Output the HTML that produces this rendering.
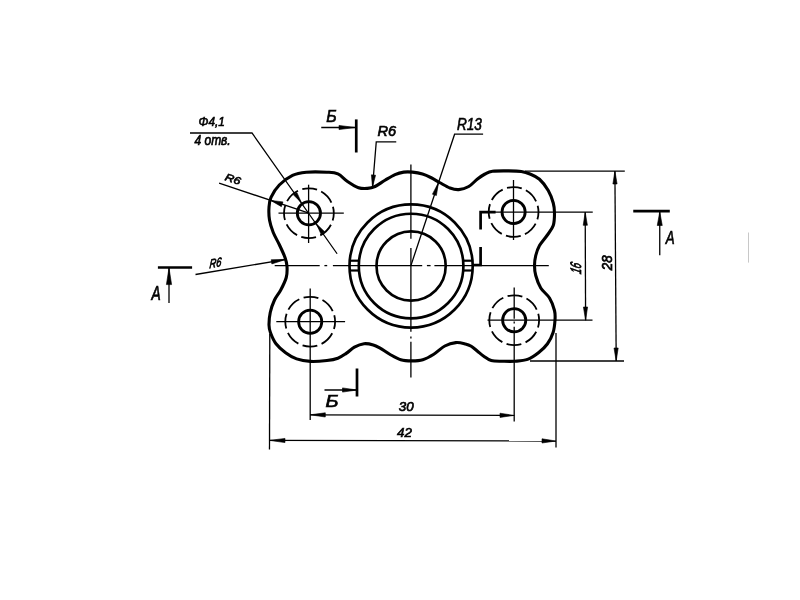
<!DOCTYPE html>
<html><head><meta charset="utf-8"><style>
html,body{margin:0;padding:0;background:#fff;}
body{width:800px;height:600px;overflow:hidden;}
svg{display:block;}
.o{fill:none;stroke:#000;stroke-width:3.1;stroke-linejoin:round}
.h{fill:none;stroke:#000;stroke-width:2.8}
.r{fill:none;stroke:#000;stroke-width:2.65}
.d{fill:none;stroke:#000;stroke-width:1.8}
.t{fill:none;stroke:#000;stroke-width:1.3}
.n{fill:none;stroke:#000;stroke-width:2.2}
.s{fill:none;stroke:#000;stroke-width:2.7;stroke-linecap:butt}
.f{fill:#000;stroke:#000;stroke-width:0.6;stroke-linejoin:round}
g.tx{opacity:0.999}
text{font-family:"Liberation Sans",sans-serif;font-style:italic;fill:#000;stroke:#000;stroke-width:0.65}
</style></head><body>
<svg width="800" height="600" viewBox="0 0 800 600">
<rect width="800" height="600" fill="#fff"/>
<path d="M271.00,197.30 C272.72,193.55 275.72,188.67 279.30,185.00 C282.88,181.33 288.00,177.43 292.50,175.30 C297.00,173.17 300.57,172.72 306.30,172.20 C312.03,171.68 321.63,171.92 326.90,172.20 C332.17,172.48 334.47,172.35 337.90,173.90 C341.33,175.45 344.07,179.20 347.50,181.50 C350.93,183.80 355.17,186.55 358.50,187.70 C361.83,188.85 364.75,188.60 367.50,188.40 C370.25,188.20 372.08,187.86 375.00,186.50 C377.92,185.14 381.67,182.23 385.00,180.25 C388.33,178.27 391.88,175.96 395.00,174.60 C398.12,173.24 400.83,172.52 403.75,172.10 C406.67,171.68 409.38,171.78 412.50,172.10 C415.62,172.42 419.38,173.06 422.50,174.00 C425.62,174.94 428.33,176.29 431.25,177.75 C434.17,179.21 436.88,181.04 440.00,182.75 C443.12,184.46 446.88,186.86 450.00,188.00 C453.12,189.14 455.62,189.85 458.75,189.60 C461.88,189.35 465.62,188.27 468.75,186.50 C471.88,184.73 474.79,181.08 477.50,179.00 C480.21,176.92 482.50,175.29 485.00,174.00 C487.50,172.71 488.54,171.77 492.50,171.25 C496.46,170.73 503.96,170.86 508.75,170.90 C513.54,170.94 517.71,170.98 521.25,171.50 C524.79,172.02 526.96,172.71 530.00,174.00 C533.04,175.29 536.46,176.50 539.50,179.25 C542.54,182.00 545.96,186.54 548.25,190.50 C550.54,194.46 552.21,199.25 553.25,203.00 C554.29,206.75 554.50,209.25 554.50,213.00 C554.50,216.75 554.50,221.75 553.25,225.50 C552.00,229.25 549.29,232.17 547.00,235.50 C544.71,238.83 541.38,242.17 539.50,245.50 C537.62,248.83 536.58,252.17 535.75,255.50 C534.92,258.83 534.50,262.17 534.50,265.50 C534.50,268.83 534.71,271.75 535.75,275.50 C536.79,279.25 538.46,284.25 540.75,288.00 C543.04,291.75 547.21,294.25 549.50,298.00 C551.79,301.75 553.58,306.83 554.50,310.50 C555.42,314.17 555.23,316.33 555.00,320.00 C554.77,323.67 554.35,328.54 553.10,332.50 C551.85,336.46 549.89,340.42 547.50,343.75 C545.11,347.08 542.08,349.89 538.75,352.50 C535.42,355.11 531.46,357.94 527.50,359.40 C523.54,360.86 519.17,360.94 515.00,361.25 C510.83,361.56 506.46,361.36 502.50,361.25 C498.54,361.14 494.38,361.43 491.25,360.60 C488.12,359.77 486.04,357.81 483.75,356.25 C481.46,354.69 479.58,352.92 477.50,351.25 C475.42,349.58 473.27,347.48 471.25,346.25 C469.23,345.02 467.97,344.51 465.40,343.90 C462.82,343.29 459.23,342.25 455.80,342.60 C452.37,342.95 448.47,344.06 444.80,346.00 C441.13,347.94 437.47,351.96 433.80,354.25 C430.13,356.54 426.47,358.64 422.80,359.75 C419.13,360.86 415.47,360.90 411.80,360.90 C408.13,360.90 404.48,360.86 400.80,359.75 C397.12,358.64 393.20,356.19 389.75,354.25 C386.30,352.31 382.85,349.66 380.10,348.10 C377.35,346.54 375.93,345.62 373.25,344.90 C370.57,344.17 367.14,343.37 364.00,343.75 C360.86,344.13 357.37,345.59 354.40,347.20 C351.43,348.81 348.95,351.57 346.20,353.40 C343.45,355.23 341.12,357.02 337.90,358.20 C334.68,359.38 331.48,359.97 326.90,360.50 C322.32,361.03 315.45,361.67 310.40,361.40 C305.35,361.13 300.73,360.35 296.60,358.90 C292.47,357.45 289.03,355.22 285.60,352.70 C282.17,350.18 278.52,347.07 276.00,343.75 C273.48,340.43 271.67,335.88 270.50,332.75 C269.33,329.62 269.04,328.38 269.00,325.00 C268.96,321.62 269.33,316.67 270.25,312.50 C271.17,308.33 272.75,303.75 274.50,300.00 C276.25,296.25 278.79,293.75 280.75,290.00 C282.71,286.25 285.21,281.46 286.25,277.50 C287.29,273.54 287.21,269.58 287.00,266.25 C286.79,262.92 286.25,261.04 285.00,257.50 C283.75,253.96 281.46,249.17 279.50,245.00 C277.54,240.83 274.92,236.67 273.25,232.50 C271.58,228.33 270.21,224.17 269.50,220.00 C268.79,215.83 268.75,211.28 269.00,207.50 C269.25,203.72 269.28,201.05 271.00,197.30 Z" class="o"/>
<circle cx="308.90" cy="213.20" r="11.6" class="h"/>
<circle cx="308.90" cy="213.20" r="24.90" class="d" stroke-dasharray="15.06 4.50" stroke-dashoffset="7.53"/>
<circle cx="513.60" cy="212.00" r="11.6" class="h"/>
<circle cx="513.60" cy="212.00" r="24.90" class="d" stroke-dasharray="15.06 4.50" stroke-dashoffset="7.53"/>
<circle cx="310.20" cy="321.70" r="11.6" class="h"/>
<circle cx="310.20" cy="321.70" r="24.90" class="d" stroke-dasharray="15.06 4.50" stroke-dashoffset="7.53"/>
<circle cx="514.20" cy="320.20" r="11.6" class="h"/>
<circle cx="514.20" cy="320.20" r="24.90" class="d" stroke-dasharray="15.06 4.50" stroke-dashoffset="7.53"/>
<line x1="278.50" y1="213.20" x2="343.80" y2="213.20" class="t"/>
<line x1="308.60" y1="184.70" x2="308.60" y2="243.00" class="t"/>
<line x1="513.50" y1="180.00" x2="513.50" y2="240.00" class="t"/>
<line x1="276.30" y1="321.70" x2="345.10" y2="321.70" class="t"/>
<line x1="310.20" y1="288.50" x2="310.20" y2="420.00" class="t"/>
<line x1="514.20" y1="287.50" x2="514.20" y2="318.80" class="t"/>
<line x1="514.20" y1="321.60" x2="514.20" y2="323.60" class="t"/>
<line x1="514.20" y1="326.80" x2="514.20" y2="421.50" class="t"/>
<line x1="525.00" y1="171.10" x2="624.80" y2="171.10" class="t"/>
<line x1="480.60" y1="212.20" x2="592.75" y2="212.20" class="t"/>
<line x1="487.50" y1="320.20" x2="592.50" y2="320.20" class="t"/>
<line x1="530.00" y1="361.00" x2="624.00" y2="361.00" class="t"/>
<line x1="269.80" y1="334.00" x2="269.50" y2="449.50" class="t"/>
<line x1="556.00" y1="333.00" x2="556.00" y2="447.50" class="t"/>
<line x1="310.20" y1="414.80" x2="514.20" y2="415.40" class="t"/>
<path d="M310.20,414.80 L325.29,417.00 L325.31,412.80 Z" class="f"/>
<path d="M514.20,415.40 L500.01,413.20 L499.99,417.40 Z" class="f"/>
<line x1="269.80" y1="440.40" x2="556.00" y2="441.00" class="t"/>
<path d="M269.80,440.40 L284.99,442.60 L285.01,438.40 Z" class="f"/>
<path d="M556.00,441.00 L542.01,438.80 L541.99,443.00 Z" class="f"/>
<line x1="585.20" y1="212.20" x2="585.60" y2="320.20" class="t"/>
<path d="M585.20,212.20 L583.20,225.32 L587.40,225.28 Z" class="f"/>
<path d="M585.60,320.20 L587.60,306.98 L583.40,307.02 Z" class="f"/>
<line x1="614.90" y1="171.10" x2="616.20" y2="361.00" class="t"/>
<path d="M614.90,171.10 L612.90,184.02 L617.10,183.98 Z" class="f"/>
<path d="M616.20,361.00 L618.20,347.98 L614.00,348.02 Z" class="f"/>
<circle cx="411.10" cy="266.00" r="61.6" class="r"/>
<circle cx="411.10" cy="266.00" r="52.3" class="r"/>
<circle cx="411.10" cy="266.00" r="34.6" class="r"/>
<line x1="349.50" y1="260.70" x2="358.80" y2="260.70" class="n"/>
<line x1="349.50" y1="270.50" x2="358.80" y2="270.50" class="n"/>
<line x1="472.70" y1="260.70" x2="463.40" y2="260.70" class="n"/>
<line x1="472.70" y1="270.50" x2="463.40" y2="270.50" class="n"/>
<line x1="274.70" y1="265.60" x2="319.70" y2="265.60" class="t"/>
<line x1="324.40" y1="265.60" x2="327.20" y2="265.60" class="t"/>
<line x1="332.90" y1="265.60" x2="422.20" y2="265.60" class="t"/>
<line x1="426.90" y1="265.60" x2="430.60" y2="265.60" class="t"/>
<line x1="434.40" y1="265.60" x2="548.80" y2="265.60" class="t"/>
<line x1="410.90" y1="164.50" x2="410.90" y2="238.70" class="t"/>
<line x1="410.90" y1="248.00" x2="410.90" y2="331.70" class="t"/>
<line x1="410.90" y1="336.50" x2="410.90" y2="338.50" class="t"/>
<line x1="410.90" y1="341.70" x2="410.90" y2="377.50" class="t"/>
<path d="M480.6,229.4 L480.6,212.2 L495.6,212.2" class="s"/>
<path d="M480.6,246.9 L480.6,265.0 L473.5,265.0" class="s"/>
<line x1="321.25" y1="127.50" x2="355.00" y2="127.50" class="t"/>
<path d="M355.00,127.50 L339.00,125.40 L339.00,129.60 Z" class="f"/>
<line x1="356.25" y1="119.40" x2="356.25" y2="152.50" class="s"/>
<line x1="324.50" y1="390.00" x2="357.00" y2="390.00" class="t"/>
<path d="M357.00,390.00 L342.50,387.90 L342.50,392.10 Z" class="f"/>
<line x1="357.00" y1="368.50" x2="357.00" y2="396.50" class="s"/>
<line x1="633.25" y1="211.10" x2="669.80" y2="211.10" class="s"/>
<line x1="659.75" y1="211.10" x2="659.75" y2="255.30" class="t"/>
<path d="M659.75,211.80 L657.25,225.50 L662.25,225.50 Z" class="f"/>
<line x1="157.90" y1="267.50" x2="192.10" y2="267.50" class="s"/>
<line x1="169.00" y1="267.50" x2="169.00" y2="302.90" class="t"/>
<path d="M169.00,268.00 L166.40,284.60 L171.60,284.60 Z" class="f"/>
<path d="M190,133 L252,133 L337.1,253.75" class="t"/>
<path d="M301.47,202.66 L296.85,192.45 L293.42,194.87 Z" class="f"/>
<path d="M316.33,223.74 L320.95,233.95 L324.38,231.53 Z" class="f"/>
<line x1="219.10" y1="183.10" x2="308.90" y2="213.20" class="t"/>
<path d="M270.80,200.45 L281.39,206.63 L282.97,201.89 Z" class="f"/>
<line x1="195.50" y1="274.50" x2="286.30" y2="259.35" class="t"/>
<path d="M286.30,259.35 L271.16,259.75 L271.85,263.89 Z" class="f"/>
<path d="M396.25,141.9 L376.25,141.9 L372.5,187.5" class="t"/>
<path d="M372.50,187.00 L375.59,175.22 L371.40,174.87 Z" class="f"/>
<path d="M483.1,134.2 L454.6,134.2 L410.9,265.6" class="t"/>
<path d="M438.50,182.50 L432.41,194.18 L436.40,195.50 Z" class="f"/>
<line x1="748.5" y1="232.5" x2="748.5" y2="262.6" stroke="#c8c8c8" stroke-width="1"/>
<g class="tx">
<text x="0" y="0" font-size="13" transform="translate(211.75 122.75) rotate(0.00) skewX(0.00) scale(0.907 0.955) translate(-14.50 3.50)">&#934;4,1</text>
<text x="0" y="0" font-size="13" transform="translate(212.00 139.75) rotate(0.00) skewX(0.00) scale(0.921 1.056) translate(-19.00 4.50)">4 отв.</text>
<text x="0" y="0" font-size="16" transform="translate(331.25 115.95) rotate(0.00) skewX(0.00) scale(1.000 0.992) translate(-5.00 6.00)">Б</text>
<text x="0" y="0" font-size="14" transform="translate(386.90 130.90) rotate(0.00) skewX(0.00) scale(1.042 1.065) translate(-9.00 5.00)">R6</text>
<text x="0" y="0" font-size="16" transform="translate(469.65 123.90) rotate(0.00) skewX(0.00) scale(0.850 1.000) translate(-15.00 6.00)">R13</text>
<text x="0" y="0" font-size="12.5" transform="translate(406.25 406.60) rotate(0.00) skewX(0.00) scale(1.071 1.028) translate(-7.00 4.50)">30</text>
<text x="0" y="0" font-size="12.5" transform="translate(404.50 432.90) rotate(0.00) skewX(0.00) scale(1.071 1.022) translate(-7.00 4.50)">42</text>
<text x="0" y="0" font-size="16" transform="translate(331.75 400.75) rotate(0.00) skewX(0.00) scale(1.250 1.042) translate(-5.00 6.00)">Б</text>
<text x="0" y="0" font-size="18" transform="translate(669.45 237.00) rotate(0.00) skewX(0.00) scale(0.742 1.062) translate(-5.00 6.50)">A</text>
<text x="0" y="0" font-size="18" transform="translate(155.40 292.30) rotate(0.00) skewX(0.00) scale(0.767 1.123) translate(-5.00 6.50)">A</text>
<text x="0" y="0" font-size="12.5" transform="translate(575.50 267.75) rotate(-90.00) skewX(-14.00) scale(0.771 1.222) translate(-7.00 4.50)">16</text>
<text x="0" y="0" font-size="12.5" transform="translate(606.75 262.75) rotate(-90.00) skewX(0.00) scale(1.064 1.167) translate(-7.00 4.50)">28</text>
<text x="0" y="0" font-size="11" transform="translate(233.00 178.90) rotate(18.00) skewX(0.00) scale(1.143 0.938) translate(-7.00 4.00)">R6</text>
<text x="0" y="0" font-size="11" transform="translate(215.60 262.60) rotate(-9.50) skewX(-14.00) scale(0.857 1.125) translate(-7.00 4.00)">R6</text>
</g>
</svg>
</body></html>
